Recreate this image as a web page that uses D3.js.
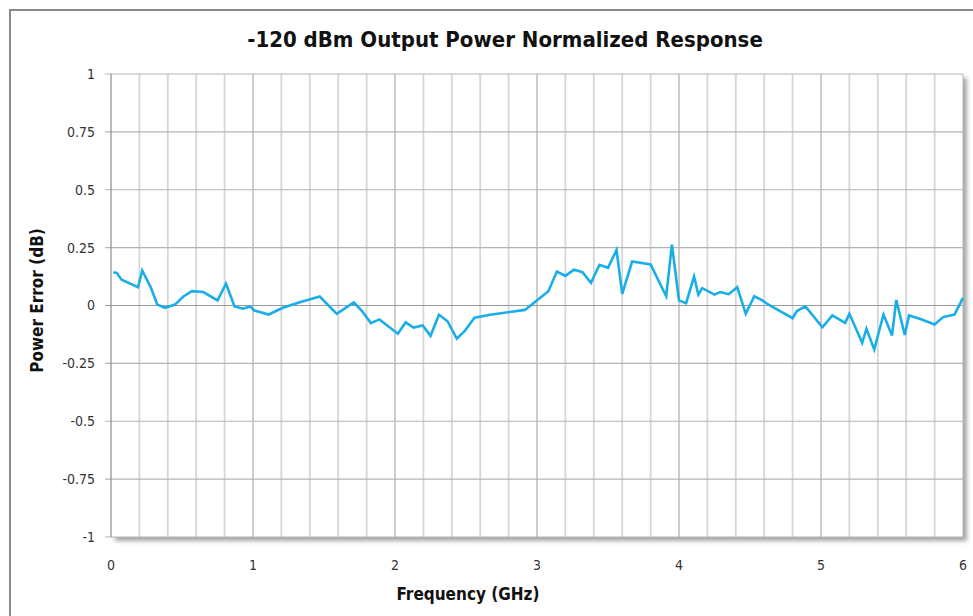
<!DOCTYPE html>
<html>
<head>
<meta charset="utf-8">
<script src="https://cdn.jsdelivr.net/npm/d3@7"></script>
<style>
  html, body { margin: 0; padding: 0; background: #fff; }
  svg { display: block; }
  text { font-family: "Liberation Sans Narrow", "DejaVu Sans Condensed", "Roboto Condensed", sans-serif; }
</style>
</head>
<body>
<svg id="chart" width="973" height="616"></svg>
<script>
const title = "-120 dBm Output Power Normalized Response";
const xLabel = "Frequency (GHz)";
const yLabel = "Power Error (dB)";
const xTicks = [0, 1, 2, 3, 4, 5, 6];
const yTicks = [-1, -0.75, -0.5, -0.25, 0, 0.25, 0.5, 0.75, 1];
const freqGHz = [0.016, 0.04, 0.075, 0.19, 0.22, 0.28, 0.326, 0.38, 0.45, 0.51, 0.57, 0.65, 0.75, 0.81, 0.87, 0.93, 0.98, 1.01, 1.11, 1.21, 1.33,
  1.47, 1.59, 1.71, 1.765, 1.83, 1.89, 2.02, 2.075, 2.13, 2.195, 2.25, 2.31, 2.37, 2.435, 2.49, 2.56, 2.67,
  2.915, 3.08, 3.14, 3.20, 3.26, 3.32, 3.38, 3.44, 3.50, 3.56, 3.60, 3.67, 3.80, 3.91, 3.95, 4.0, 4.05,
  4.106, 4.136, 4.164, 4.25, 4.29, 4.35, 4.41, 4.47, 4.53, 4.58, 4.64, 4.80, 4.83, 4.89, 5.01,
  5.08, 5.17, 5.20, 5.29, 5.32, 5.375, 5.44, 5.50, 5.53, 5.59, 5.62, 5.70, 5.80, 5.86, 5.94, 6.0];
const errorDb = [0.144, 0.141, 0.111, 0.079, 0.151, 0.079, 0.004, -0.01, 0.004, 0.039, 0.062, 0.058, 0.022, 0.094, -0.004, -0.014, -0.004, -0.022, -0.039, -0.01, 0.014,
  0.039, -0.036, 0.013, -0.022, -0.076, -0.06, -0.122, -0.073, -0.095, -0.086, -0.131, -0.04, -0.068, -0.143, -0.111, -0.053, -0.04,
  -0.019, 0.062, 0.147, 0.128, 0.155, 0.144, 0.098, 0.176, 0.163, 0.24, 0.05, 0.19, 0.177, 0.04, 0.263, 0.022, 0.01,
  0.125, 0.047, 0.075, 0.047, 0.058, 0.049, 0.079, -0.036, 0.04, 0.024, 0, -0.055, -0.024, -0.004, -0.094,
  -0.043, -0.075, -0.036, -0.161, -0.101, -0.19, -0.039, -0.13, 0.024, -0.127, -0.043, -0.058, -0.082, -0.05, -0.039, 0.033];

const svg = d3.select("#chart");
const W = 973, H = 616;
const m = { left: 111, top: 74, right: 963, bottom: 537 };

const x = d3.scaleLinear().domain([0, 6]).range([m.left, m.right]);
const y = d3.scaleLinear().domain([-1, 1]).range([m.bottom, m.top]);

// frame
svg.append("path")
  .attr("d", `M10,${H} L10,10 L${W},10`)
  .attr("fill", "none").attr("stroke", "#8a8a8a").attr("stroke-width", 2);

// shadow filter
const defs = svg.append("defs");
const f = defs.append("filter").attr("id", "shadow").attr("x", "-5%").attr("y", "-5%").attr("width", "115%").attr("height", "115%");
f.append("feDropShadow").attr("dx", 4).attr("dy", 4).attr("stdDeviation", 2).attr("flood-color", "#000").attr("flood-opacity", 0.35);

svg.append("rect")
  .attr("x", m.left).attr("y", m.top)
  .attr("width", m.right - m.left).attr("height", m.bottom - m.top)
  .attr("fill", "#fff").attr("filter", "url(#shadow)");

// vertical grid: minor every 0.2, major every 1
const minor = d3.range(0, 31).map(i => i * 0.2).filter(v => Math.abs(v - Math.round(v)) > 1e-6);
svg.append("g").selectAll("line").data(minor).join("line")
  .attr("x1", d => x(d)).attr("x2", d => x(d))
  .attr("y1", m.top).attr("y2", m.bottom)
  .attr("stroke", "#d6d6d6").attr("stroke-width", 1.8);

svg.append("g").selectAll("line").data(xTicks.filter(d => d > 0 && d < 6)).join("line")
  .attr("x1", d => x(d)).attr("x2", d => x(d))
  .attr("y1", m.top).attr("y2", m.bottom)
  .attr("stroke", "#9a9a9a").attr("stroke-width", 1);

// horizontal grid
svg.append("g").selectAll("line").data(yTicks).join("line")
  .attr("x1", m.left - 6).attr("x2", m.right)
  .attr("y1", d => y(d)).attr("y2", d => y(d))
  .attr("stroke", d => d === 0 ? "#9a9a9a" : "#b4b4b4").attr("stroke-width", 1.2);

// plot border
svg.append("line").attr("x1", m.left).attr("x2", m.left).attr("y1", m.top).attr("y2", m.bottom)
  .attr("stroke", "#8c8c8c").attr("stroke-width", 1.2);
svg.append("line").attr("x1", m.right).attr("x2", m.right).attr("y1", m.top).attr("y2", m.bottom)
  .attr("stroke", "#b4b4b4").attr("stroke-width", 1);

// y tick labels
svg.append("g").selectAll("text").data(yTicks).join("text")
  .attr("x", 95).attr("y", d => y(d)).attr("dy", "0.35em")
  .attr("text-anchor", "end").attr("font-size", 14).attr("fill", "#333")
  .text(d => String(d));

// x tick labels
svg.append("g").selectAll("text").data(xTicks).join("text")
  .attr("x", d => x(d)).attr("y", 570)
  .attr("text-anchor", "middle").attr("font-size", 14).attr("fill", "#333")
  .text(d => String(d));

// line
const line = d3.line().x((d, i) => x(freqGHz[i])).y((d, i) => y(errorDb[i]));
svg.append("path").datum(errorDb)
  .attr("d", line)
  .attr("fill", "none").attr("stroke", "#19aee8").attr("stroke-width", 2.6)
  .attr("stroke-linejoin", "miter");

// title
svg.append("text").attr("x", 505).attr("y", 47)
  .attr("text-anchor", "middle").attr("font-size", 22).attr("font-weight", "bold").attr("fill", "#111")
  .text(title);

svg.append("text").attr("x", 468).attr("y", 600)
  .attr("text-anchor", "middle").attr("font-size", 17).attr("font-weight", "bold").attr("fill", "#111")
  .text(xLabel);

svg.append("text")
  .attr("transform", `translate(43,${(m.top + m.bottom) / 2 - 5}) rotate(-90)`)
  .attr("text-anchor", "middle").attr("font-size", 17).attr("font-weight", "bold").attr("fill", "#111")
  .text(yLabel);
</script>
</body>
</html>
